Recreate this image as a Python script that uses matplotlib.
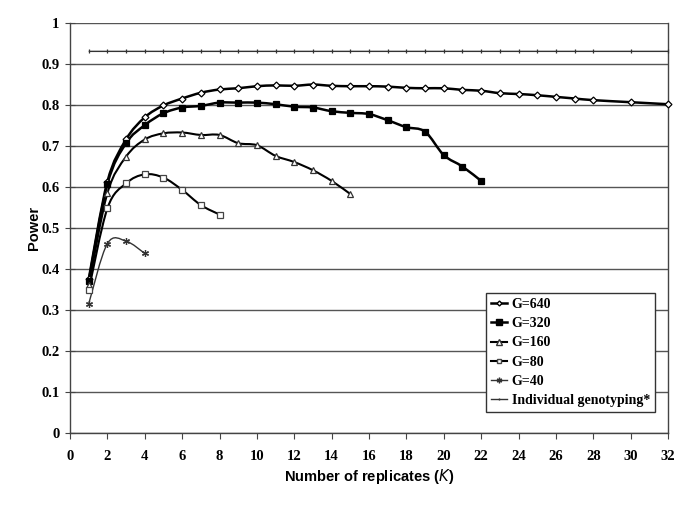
import numpy as np
import matplotlib.pyplot as plt
from matplotlib.path import Path
from matplotlib.patches import PathPatch
from matplotlib.lines import Line2D

# data
k_640 = list(range(1, 29)) + [30, 32]
p_640 = [0.375, 0.613, 0.716, 0.770, 0.799, 0.816, 0.830, 0.838, 0.841, 0.846,
         0.848, 0.847, 0.850, 0.847, 0.846, 0.846, 0.845, 0.842, 0.841, 0.841,
         0.837, 0.835, 0.829, 0.827, 0.824, 0.820, 0.816, 0.812, 0.807, 0.802]

k_320 = list(range(1, 23))
p_320 = [0.370, 0.607, 0.707, 0.751, 0.780, 0.794, 0.798, 0.806, 0.806, 0.806,
         0.802, 0.796, 0.794, 0.785, 0.781, 0.778, 0.763, 0.746, 0.735, 0.678,
         0.650, 0.615]

k_160 = list(range(1, 16))
p_160 = [0.360, 0.585, 0.674, 0.716, 0.731, 0.733, 0.727, 0.727, 0.707, 0.702,
         0.676, 0.661, 0.641, 0.615, 0.583]

k_80 = list(range(1, 9))
p_80 = [0.348, 0.548, 0.609, 0.631, 0.623, 0.593, 0.556, 0.533]

k_40 = [1, 2, 3, 4]
p_40 = [0.315, 0.462, 0.468, 0.438]

k_ind = list(range(1, 29)) + [30, 32]
p_ind = [0.931] * len(k_ind)

labels = ["G=640", "G=320", "G=160", "G=80", "G=40", "Individual genotyping*"]


def smooth_path(x, y):
    # Excel-like smoothed line: Catmull-Rom segments as cubic Bezier curves
    x = np.asarray(x, float)
    y = np.asarray(y, float)
    n = len(x)
    verts = [(x[0], y[0])]
    codes = [Path.MOVETO]
    for i in range(n - 1):
        i0 = max(i - 1, 0)
        i3 = min(i + 2, n - 1)
        c1 = (x[i] + (x[i + 1] - x[i0]) / 6, y[i] + (y[i + 1] - y[i0]) / 6)
        c2 = (x[i + 1] - (x[i3] - x[i]) / 6, y[i + 1] - (y[i3] - y[i]) / 6)
        verts += [c1, c2, (x[i + 1], y[i + 1])]
        codes += [Path.CURVE4] * 3
    return Path(verts, codes)


fig = plt.figure(figsize=(6.85, 5.13), dpi=100)
ax = fig.add_axes([0.1022, 0.156, 0.873, 0.799])

ax.set_xlim(0, 32)
ax.set_ylim(0, 1)
ax.set_xticks(range(0, 33, 2))
ax.set_yticks(np.arange(0, 1.01, 0.1))
ax.set_yticklabels(["0", "0.1", "0.2", "0.3", "0.4", "0.5", "0.6", "0.7", "0.8", "0.9", "1"])
ax.grid(axis="y", color="#555555", linewidth=1.0)
ax.set_axisbelow(True)
for s in ax.spines.values():
    s.set_color("#444444")
    s.set_linewidth(1.0)
ax.spines["top"].set_visible(False)

for t in ax.get_xticklabels() + ax.get_yticklabels():
    t.set_fontfamily("Liberation Serif")
    t.set_fontweight("bold")
    t.set_fontsize(10.5)
ax.tick_params(axis="y", direction="inout", length=7, color="#444444", pad=4)
ax.tick_params(axis="x", direction="out", length=4, color="#444444", pad=8)

series = [
    (k_640, p_640, dict(marker="D", ms=3.5, mfc="white", mec="black", color="black", lw=1.8)),
    (k_320, p_320, dict(marker="s", ms=5, mfc="black", mec="black", color="black", lw=1.8)),
    (k_160, p_160, dict(marker="^", ms=5, mfc="white", mec="#333333", color="black", lw=1.5)),
    (k_80, p_80, dict(marker="s", ms=4.5, mfc="white", mec="#444444", color="black", lw=1.5)),
    (k_40, p_40, dict(marker=(6, 2, 0), ms=5, mfc="#333333", mec="#333333", color="#333333", lw=1.0)),
    (k_ind, p_ind, dict(marker="|", ms=3, mfc="#333333", mec="#333333", color="#333333", lw=1.0)),
]

handles = []
for (k, p, st), lab in zip(series, labels):
    patch = PathPatch(smooth_path(k, p), facecolor="none", edgecolor=st["color"],
                      linewidth=st["lw"], zorder=3)
    ax.add_patch(patch)
    ax.plot(k, p, linestyle="none", marker=st["marker"], markersize=st["ms"],
            markerfacecolor=st["mfc"], markeredgecolor=st["mec"], markeredgewidth=0.9,
            zorder=4, clip_on=False)
    handles.append(Line2D([], [], color=st["color"], lw=st["lw"], marker=st["marker"],
                          markersize=st["ms"] - 1, markerfacecolor=st["mfc"],
                          markeredgecolor=st["mec"], label=lab))

leg = ax.legend(handles=handles, loc="lower right", bbox_to_anchor=(0.978, 0.051),
                prop=dict(family="Liberation Serif", weight="bold", size=10),
                frameon=True, fancybox=False, edgecolor="#333333", framealpha=1,
                handlelength=1.2, handletextpad=0.3, labelspacing=0.45,
                borderpad=0.35, borderaxespad=0)
leg.get_frame().set_linewidth(1.0)

ax.set_ylabel("Power", family="Liberation Sans", weight="bold", size=10.5, labelpad=0)
ax.set_xlabel("Number of replicates ($\\mathit{K}$)", family="Liberation Sans",
              weight="bold", size=10.5, labelpad=3)

fig.savefig("out.png", dpi=100)
